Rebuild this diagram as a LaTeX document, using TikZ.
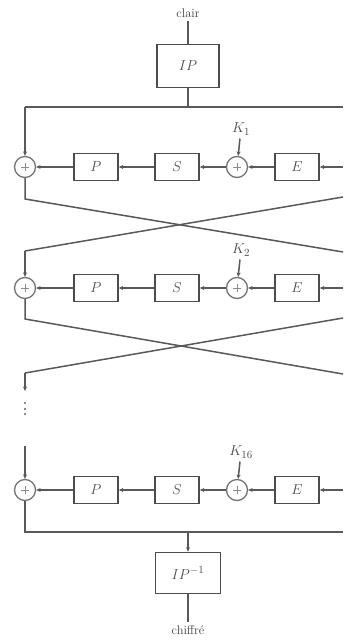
\documentclass[tikz,border=0pt]{standalone}
\usetikzlibrary{arrows.meta}
\begin{document}
\begin{tikzpicture}[x=1pt,y=-1pt,
  wire/.style={draw=black!65, line width=1.5pt},
  ar/.style={-{Stealth[length=4.5pt,width=4pt]}},
  box/.style={draw=black!70, line width=1.6pt, minimum width=44pt, minimum height=27pt, inner sep=0pt, text=black!70, font=\fontsize{15}{17}\selectfont},
  xor/.style={circle, draw=black!55, line width=1.3pt, minimum size=21pt, inner sep=0pt,
    path picture={\draw[black!45,line width=0.9pt] ([xshift=-4pt]path picture bounding box.center) -- ([xshift=4pt]path picture bounding box.center)
      ([yshift=-4pt]path picture bounding box.center) -- ([yshift=4pt]path picture bounding box.center);}},
  lab/.style={text=black!75, font=\fontsize{12.5}{14}\selectfont},
  klab/.style={text=black!70, font=\fontsize{15}{17}\selectfont},
  dotsbox/.style={minimum width=3pt, minimum height=16pt, inner sep=0pt,
    path picture={\draw[black!45, line width=1.3pt, dash pattern=on 2pt off 3.5pt] (path picture bounding box.north) -- (path picture bounding box.south);}}]
\useasboundingbox (0,0) rectangle (343,642);
% input
\node[lab] (clair) at (188,13) {clair};
\node[box, minimum width=62pt, minimum height=43pt] (ip) at (188,66) {$IP$};
\coordinate (top) at (188,107);
\coordinate (tl) at (25,107);
\coordinate (tr) at (343,107);
\draw[wire] (clair) -- (ip);
\draw[wire] (ip) -- (top);
\draw[wire] (tl) -- (tr);
% rounds
\foreach \y/\k/\n in {167/1/a, 288/2/b, 490/16/c}{
  \node[xor] (x0\n) at (25,\y) {};
  \node[box] (p\n) at (96,\y) {$P$};
  \node[box] (s\n) at (177,\y) {$S$};
  \node[xor] (x1\n) at (237,\y) {};
  \node[box] (e\n) at (297,\y) {$E$};
  \coordinate (r\n) at (343,\y);
  \node[klab] (k\n) at (241,\y-38) {$K_{\k}$};
  \draw[wire,ar] (k\n) -- (x1\n);
  \draw[wire,ar] (r\n) -- (e\n);
  \draw[wire,ar] (e\n) -- (x1\n);
  \draw[wire,ar] (x1\n) -- (s\n);
  \draw[wire,ar] (s\n) -- (p\n);
  \draw[wire,ar] (p\n) -- (x0\n);
}
\draw[wire,ar] (tl) -- (x0a);
% crossing 1
\coordinate (c1l) at (25,199);
\coordinate (c1r) at (343,252);
\coordinate (c1rr) at (343,197);
\coordinate (c1ll) at (25,251);
\draw[wire] (x0a) -- (c1l) -- (c1r);
\draw[wire] (c1rr) -- (c1ll);
\draw[wire,ar] (c1ll) -- (x0b);
% crossing 2
\coordinate (c2l) at (25,319);
\coordinate (c2r) at (343,374);
\coordinate (c2rr) at (343,318);
\coordinate (c2ll) at (25,373);
\coordinate (c2d) at (25,391);
\draw[wire] (x0b) -- (c2l) -- (c2r);
\draw[wire] (c2rr) -- (c2ll);
\draw[wire,ar] (c2ll) -- (c2d);
\node[dotsbox] (dots) at (25,410) {};
\coordinate (d2) at (25,446);
\draw[wire,ar] (d2) -- (x0c);
% output
\coordinate (bl) at (25,532);
\coordinate (br) at (343,532);
\coordinate (bm) at (188,532);
\draw[wire] (x0c) -- (bl) -- (br);
\node[box, minimum width=65pt, minimum height=41pt] (ipi) at (188,573) {$IP^{-1}$};
\draw[wire,ar] (bm) -- (ipi);
\node[lab] (chif) at (188,630) {chiffré};
\draw[wire] (ipi) -- (chif);
\end{tikzpicture}
\end{document}
